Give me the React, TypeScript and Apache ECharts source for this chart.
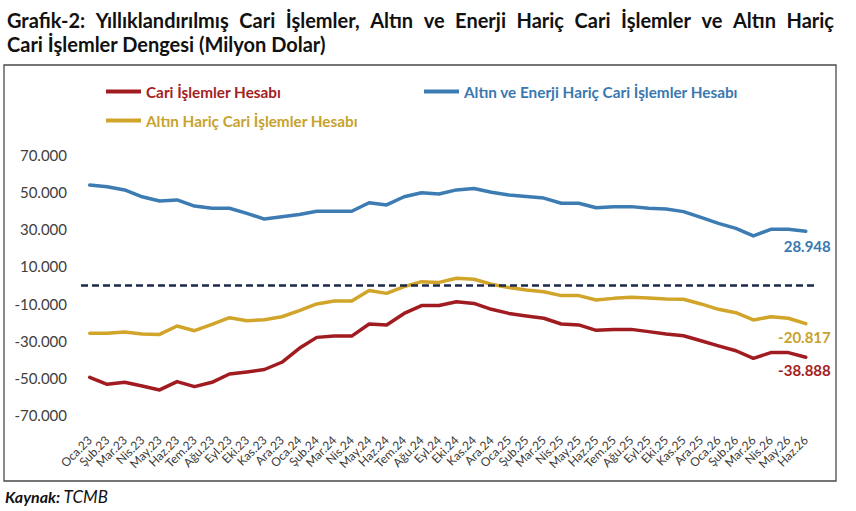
import React, { useEffect, useRef } from 'react';
import * as echarts from 'echarts';

const categories = [
  'Oca.23', 'Şub.23', 'Mar.23', 'Nis.23', 'May.23', 'Haz.23', 'Tem.23', 'Ağu.23', 'Eyl.23', 'Eki.23', 'Kas.23', 'Ara.23',
  'Oca.24', 'Şub.24', 'Mar.24', 'Nis.24', 'May.24', 'Haz.24', 'Tem.24', 'Ağu.24', 'Eyl.24', 'Eki.24', 'Kas.24', 'Ara.24',
  'Oca.25', 'Şub.25', 'Mar.25', 'Nis.25', 'May.25', 'Haz.25', 'Tem.25', 'Ağu.25', 'Eyl.25', 'Eki.25', 'Kas.25', 'Ara.25',
  'Oca.26', 'Şub.26', 'Mar.26', 'Nis.26', 'May.26', 'Haz.26',
];

const cariIslemlerHesabi = [
  -49700, -53500, -52400, -54400, -56500, -52000, -54700, -52400, -47900, -46800, -45500, -41600,
  -34100, -28200, -27500, -27500, -21000, -21500, -15300, -11100, -11000, -9000, -9900, -13100,
  -15300, -16700, -17900, -21000, -21500, -24400, -23900, -23900, -25100, -26400, -27300, -30000,
  -32800, -35400, -39500, -36400, -36400, -38888,
];

const altinEnerjiHaric = [
  53800, 52900, 51200, 47500, 45200, 45800, 42500, 41300, 41300, 38600, 35500, 36800,
  38000, 39700, 39700, 39700, 44300, 43100, 47500, 49700, 49000, 51200, 52000, 49900,
  48500, 47600, 46800, 44000, 44000, 41600, 42200, 42200, 41300, 40900, 39500, 36400,
  33200, 30500, 26400, 30000, 30000, 28948,
];

const altinHaric = [
  -26000, -26000, -25300, -26400, -26600, -22100, -24600, -21200, -17600, -19200, -18700, -17100,
  -13800, -10200, -8600, -8600, -3000, -4500, -900, 1800, 1400, 3600, 3100, 400,
  -1400, -2700, -3600, -5700, -5700, -8100, -7200, -6600, -7000, -7500, -7700, -10200,
  -13100, -14900, -18800, -17100, -17900, -20817,
];

const seriesNames = [
  'Cari İşlemler Hesabı',
  'Altın ve Enerji Hariç Cari İşlemler Hesabı',
  'Altın Hariç Cari İşlemler Hesabı',
];

const Y_MIN = -70000;
const Y_MAX = 70000;
const Y_STEP = 10000;
const ZERO_LINE = 0;

const titleLine1 = 'Grafik-2: Yıllıklandırılmış Cari İşlemler, Altın ve Enerji Hariç Cari İşlemler ve Altın Hariç';
const titleLine2 = 'Cari İşlemler Dengesi (Milyon Dolar)';
const sourceLabel = 'Kaynak:';
const sourceName = 'TCMB';

const FONT = 'Lato, "Open Sans", sans-serif';
const TITLE_SIZE = 20;
const TITLE_LEFT = 7;
const TITLE_RIGHT = 834;
const RED = '#A11C20';
const BLUE = '#3D7CB3';
const GOLD = '#D1A42A';
const RED_TXT = '#A31E22';
const BLUE_TXT = '#3A78AF';
const GOLD_TXT = '#C7A22C';

function fmt(v: number): string {
  const s = Math.abs(Math.round(v)).toString().replace(/\B(?=(\d{3})+(?!\d))/g, '.');
  return (v < 0 ? '-' : '') + s;
}

function justifiedWords(text: string, left: number, right: number, font: string) {
  const words = text.split(' ');
  const ctx = document.createElement('canvas').getContext('2d')!;
  ctx.font = font;
  const widths = words.map((w) => ctx.measureText(w).width);
  const total = widths.reduce((a, b) => a + b, 0);
  const gap = (right - left - total) / (words.length - 1);
  let x = left;
  return words.map((w, i) => {
    const item = { word: w, x };
    x += widths[i] + gap;
    return item;
  });
}

export default function App() {
  const ref = useRef<HTMLDivElement>(null);

  useEffect(() => {
    if (!ref.current) return;
    const chart = echarts.init(ref.current, undefined, { renderer: 'svg' });

    const mkLegend = (name: string, color: string, left: number, top: number) => ({
      data: [{ name, textStyle: { color } }],
      left,
      top,
      padding: 0,
      icon: 'rect',
      itemWidth: 35,
      itemHeight: 4,
      selectedMode: false,
      textStyle: { fontFamily: FONT, fontSize: 15.3, fontWeight: 'bold', color },
    });

    const mkSeries = (name: string, data: number[], color: string, txt: string, dy: number) => ({
      name,
      type: 'line',
      data,
      symbol: 'none',
      smooth: false,
      color,
      lineStyle: { width: 3.5, color, cap: 'round', join: 'round' },
      endLabel: {
        show: true,
        formatter: (p: any) => fmt(Array.isArray(p.value) ? p.value[1] : p.value),
        color: txt,
        fontFamily: FONT,
        fontSize: 15,
        fontWeight: 'bold',
        align: 'right',
        verticalAlign: 'middle',
        distance: 0,
        offset: [25, dy],
      },
    });

    const titleFont = `bold ${TITLE_SIZE}px Lato`;
    const words = justifiedWords(titleLine1, TITLE_LEFT, TITLE_RIGHT, titleFont);

    const graphics: any[] = [
      {
        type: 'rect',
        shape: { x: 4, y: 65, width: 832, height: 416 },
        style: { fill: 'none', stroke: '#4a4a4a', lineWidth: 1.3 },
        silent: true,
      },
      ...words.map((w) => ({
        type: 'text',
        x: w.x,
        y: 20,
        style: { text: w.word, fontFamily: FONT, fontSize: TITLE_SIZE, fontWeight: 'bold', fill: '#111', verticalAlign: 'middle', align: 'left' },
      })),
      {
        type: 'text',
        x: TITLE_LEFT,
        y: 44,
        style: { text: titleLine2, fontFamily: FONT, fontSize: TITLE_SIZE, fontWeight: 'bold', fill: '#111', verticalAlign: 'middle', align: 'left' },
      },
      {
        type: 'text',
        x: 5,
        y: 496,
        style: {
          text: `{b|${sourceLabel}} {i|${sourceName}}`,
          verticalAlign: 'middle',
          align: 'left',
          rich: {
            b: { fontFamily: FONT, fontSize: 16, fontWeight: 'bold', fontStyle: 'italic', fill: '#111' },
            i: { fontFamily: FONT, fontSize: 17, fontStyle: 'italic', fill: '#111' },
          },
        },
      },
    ];

    const series: any[] = [
      mkSeries(seriesNames[0], cariIslemlerHesabi, RED, RED_TXT, 13),
      mkSeries(seriesNames[1], altinEnerjiHaric, BLUE, BLUE_TXT, 15),
      mkSeries(seriesNames[2], altinHaric, GOLD, GOLD_TXT, 13),
    ];
    series[2].markLine = {
      silent: true,
      symbol: ['none', 'none'],
      label: { show: false },
      lineStyle: { type: [7, 4], width: 2.6, color: '#1B2A4A' },
      data: [{ yAxis: ZERO_LINE }],
      z: 10,
    };

    chart.setOption({
      animation: false,
      backgroundColor: '#ffffff',
      legend: [
        mkLegend(seriesNames[0], RED_TXT, 106, 84),
        mkLegend(seriesNames[1], BLUE_TXT, 424, 84),
        mkLegend(seriesNames[2], GOLD_TXT, 106, 113),
      ],
      grid: { left: 81, top: 155, width: 733.5, height: 260, containLabel: false },
      xAxis: {
        type: 'category',
        data: categories,
        boundaryGap: true,
        axisLine: { show: false },
        axisTick: { show: false },
        axisLabel: {
          interval: 0,
          rotate: 45,
          margin: 23,
          fontFamily: FONT,
          fontSize: 12,
          color: '#3a3a3a',
        },
      },
      yAxis: {
        type: 'value',
        min: Y_MIN,
        max: Y_MAX,
        interval: Y_STEP,
        splitLine: { show: false },
        axisLine: { show: false },
        axisTick: { show: false },
        axisLabel: {
          margin: 14,
          fontFamily: FONT,
          fontSize: 15,
          color: '#404040',
          formatter: (v: number) => (Math.abs(v) % 20000 === 10000 ? fmt(v) : ''),
        },
      },
      graphic: { elements: graphics },
      series,
    });

    return () => chart.dispose();
  }, []);

  return (
    <div
      ref={ref}
      style={{ position: 'fixed', left: 0, top: 0, width: 856, height: 511, background: '#fff' }}
    />
  );
}
